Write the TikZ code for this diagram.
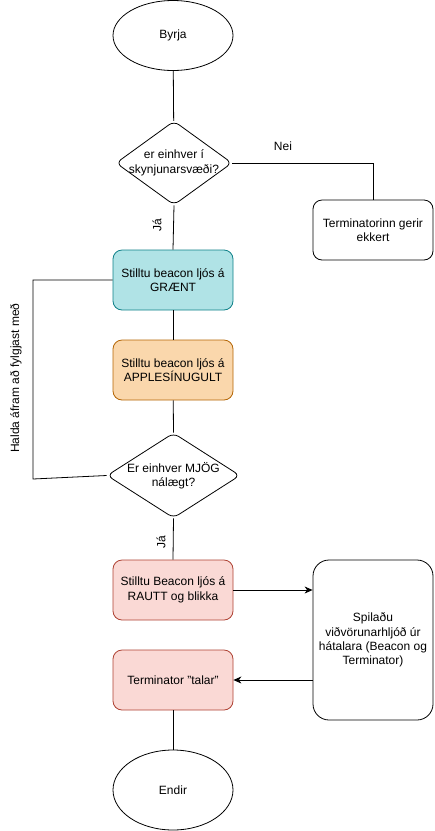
\documentclass[tikz,border=0pt]{standalone}
\usepackage{fontspec}
\setmainfont{Liberation Sans}
\usetikzlibrary{shapes.geometric,arrows.meta}
\definecolor{gfill}{HTML}{B0E3E6}\definecolor{gdraw}{HTML}{0E8088}
\definecolor{ofill}{HTML}{FAD7AC}\definecolor{odraw}{HTML}{B46504}
\definecolor{rfill}{HTML}{FAD9D5}\definecolor{rdraw}{HTML}{AE4132}
\begin{document}
\begin{tikzpicture}[x=1pt,y=-1pt,line width=0.8pt,
  every node/.style={font=\fontsize{12}{14.4}\selectfont,align=center},
  term/.style={draw,ellipse,minimum width=120pt,minimum height=70pt,inner sep=0pt},
  dec/.style={draw,diamond,rounded corners=6pt,inner sep=0pt},
  proc/.style={draw,rectangle,rounded corners=9pt,minimum width=120pt,minimum height=60pt,inner sep=0pt},
  arr/.style={-{Stealth[length=8pt,width=7pt,inset=2.5pt]}},
  lbl/.style={font=\fontsize{12}{14.4}\selectfont}]
\useasboundingbox (0,0) rectangle (435,831);
\node[term] (start) at (173,35.5) {Byrja};
\node[dec,minimum width=116pt,minimum height=84pt] (d1) at (174,163) {};
\node (d1t) at (174,163) {er einhver í\\skynjunarsvæði?};
\node[proc] (none) at (373,230) {Terminatorinn gerir\\ekkert};
\node[proc,fill=gfill,draw=gdraw] (green) at (173,280) {Stilltu beacon ljós á\\GRÆNT};
\node[proc,fill=ofill,draw=odraw] (orange) at (173,370) {Stilltu beacon ljós á\\APPLESÍNUGULT};
\node[dec,minimum width=133pt,minimum height=85pt] (d2) at (173.5,475.5) {};
\node (d2t) at (173.5,475.5) {Er einhver MJÖG\\nálægt?};
\node[proc,fill=rfill,draw=rdraw] (red) at (173,590) {Stilltu Beacon ljós á\\RAUTT og blikka};
\node[proc,fill=rfill,draw=rdraw] (talk) at (173,680) {Terminator "talar"};
\node[proc,rounded corners=16pt,minimum height=160pt] (play) at (373,640) {Spilaðu\\viðvörunarhljóð úr\\hátalara (Beacon og\\Terminator)};
\node[term,minimum height=80pt] (end) at (173,790) {Endir};

\draw (start) -- (d1);
\draw (d1.east) -| (none.north);
\node[lbl] (nei) at (283,146) {Nei};
\draw (d1.south) -- (green.north);
\node[lbl,rotate=90] (ja1) at (157,225) {Já};
\draw (green) -- (orange);
\draw (orange) -- (d2.north);
\coordinate (lp1) at (33,280);
\coordinate (lp2) at (33,479);
\draw (green.west) -- (lp1) -- (lp2) -- (d2.west);
\node[lbl,rotate=90] (halda) at (16,378) {Halda áfram að fylgjast með};
\draw (d2.south) -- (red.north);
\node[lbl,rotate=90] (ja2) at (161,542) {Já};
\draw[arr] (red.east) -- (red.east -| play.west);
\draw[arr] (talk.east -| play.west) -- (talk.east);
\draw (talk) -- (end);
\end{tikzpicture}
\end{document}
